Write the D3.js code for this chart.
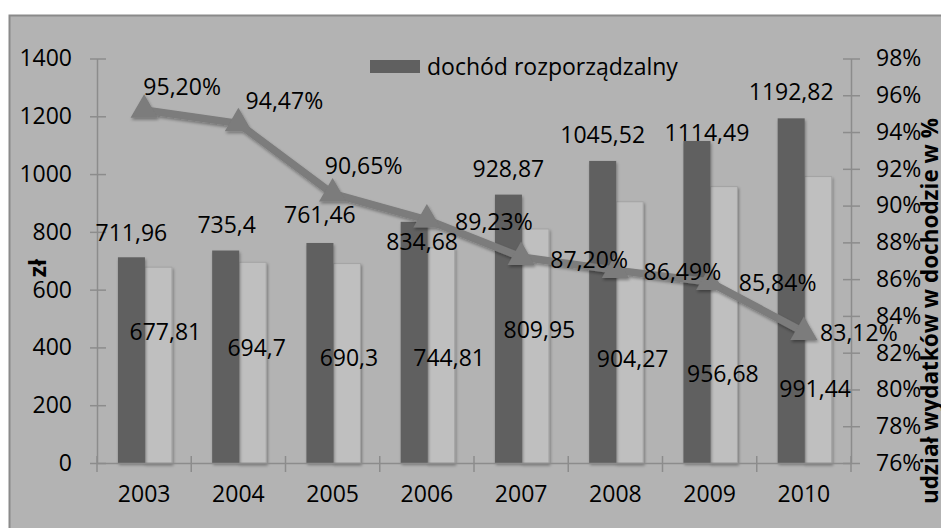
<!DOCTYPE html>
<html>
<head>
<meta charset="utf-8">
<script src="https://cdn.jsdelivr.net/npm/d3@7/dist/d3.min.js"></script>
<style>
  html, body { margin: 0; padding: 0; background: #fff; }
  svg { display: block; }
  text { font-family: "Open Sans", Lato, "Liberation Sans", sans-serif; fill: #000; }
</style>
</head>
<body>
<svg id="chart" width="941" height="528"></svg>
<script>
// Disposable income vs. spending per person (zł) and spending share of income (%)
const years = ["2003", "2004", "2005", "2006", "2007", "2008", "2009", "2010"];
const income = [711.96, 735.4, 761.46, 834.68, 928.87, 1045.52, 1114.49, 1192.82];
const spending = [677.81, 694.7, 690.3, 744.81, 809.95, 904.27, 956.68, 991.44];
const share = [95.20, 94.47, 90.65, 89.23, 87.20, 86.49, 85.84, 83.12];
const leftTicks = [0, 200, 400, 600, 800, 1000, 1200, 1400];
const rightTicks = [76, 78, 80, 82, 84, 86, 88, 90, 92, 94, 96, 98];
const legendLabel = "dochód rozporządzalny";
const leftTitle = "zł";
const rightTitle = "udział wydatków w dochodzie w %";

// hand-placed label offsets [dx, dy] in px
const incomeLabelNudge = [[0,-25],[1,-26],[0,-28],[8,20],[0,-26],[0,-26],[10,-8],[0,-27]];
const spendingLabelNudge = [[7,65],[4,85],[2,94],[8,110],[4,101],[3,157],[-1,187],[-3,212]];
const shareLabelNudge = [[38,-23],[46,-23],[31,-28],[67,2],[68,3],[67,2],[68,1],[55,1]];

const svg = d3.select("#chart");
const W = 941, H = 528;
const plot = { left: 97, right: 851, top: 58.5, bottom: 463 };

const defs = svg.append("defs");
const shadow = defs.append("filter").attr("id", "shadow")
  .attr("x", "-30%").attr("y", "-30%").attr("width", "160%").attr("height", "160%");
shadow.append("feDropShadow").attr("dx", 1).attr("dy", 2).attr("stdDeviation", 1.8)
  .attr("flood-color", "#000").attr("flood-opacity", 0.35);

// panel
svg.append("rect").attr("x", 9.5).attr("y", 15.5).attr("width", W).attr("height", H)
  .attr("fill", "#b3b3b3").attr("stroke", "#8a8a8a").attr("stroke-width", 2);

const x0 = d3.scaleBand().domain(years).range([plot.left, plot.right]).padding(0);
const x1 = d3.scaleBand().domain(["income", "spending"]).range([0, x0.bandwidth()])
  .paddingInner(0).paddingOuter(0.745).align(0.52);
const yL = d3.scaleLinear().domain([0, 1400]).range([plot.bottom, plot.top]);
const yR = d3.scaleLinear().domain([76, 98]).range([plot.bottom, plot.top]);

const axisColor = "#8c8c8c";
const fontSize = 23;

// bars
const g = svg.append("g");
const groups = g.selectAll("g.year").data(years).join("g")
  .attr("transform", d => `translate(${x0(d)},0)`);

groups.append("rect")
  .attr("x", x1("spending")).attr("width", x1.bandwidth())
  .attr("y", (d, i) => yL(spending[i])).attr("height", (d, i) => yL(0) - yL(spending[i]))
  .attr("fill", "#bfbfbf").attr("stroke", "#a4a4a4").attr("stroke-width", 1)
  .attr("filter", "url(#shadow)");
groups.append("rect")
  .attr("x", x1("income")).attr("width", x1.bandwidth())
  .attr("y", (d, i) => yL(income[i])).attr("height", (d, i) => yL(0) - yL(income[i]))
  .attr("fill", "#606060")
  .attr("filter", "url(#shadow)");

// left axis
const leftAxis = svg.append("g").attr("transform", `translate(${plot.left},0)`)
  .call(d3.axisLeft(yL).tickValues(leftTicks).tickSize(0).tickPadding(25)
    .tickFormat(d3.format("d")));
leftAxis.select(".domain").attr("stroke", axisColor).attr("stroke-width", 1.5);
leftAxis.selectAll(".tick line").remove();
leftAxis.selectAll(".tick").append("line").attr("x1", -7).attr("x2", 9)
  .attr("stroke", axisColor).attr("stroke-width", 1.5);
leftAxis.selectAll(".tick text").attr("font-size", fontSize).attr("font-family", null);

// right axis
const rightAxis = svg.append("g").attr("transform", `translate(${plot.right},0)`)
  .call(d3.axisRight(yR).tickValues(rightTicks).tickSize(0).tickPadding(25)
    .tickFormat(d => d + "%"));
rightAxis.select(".domain").attr("stroke", axisColor).attr("stroke-width", 1.5);
rightAxis.selectAll(".tick line").remove();
rightAxis.selectAll(".tick").append("line").attr("x1", -8).attr("x2", 9)
  .attr("stroke", axisColor).attr("stroke-width", 1.5);
rightAxis.selectAll(".tick text").attr("font-size", fontSize).attr("font-family", null);

// bottom axis
const bottomAxis = svg.append("g").attr("transform", `translate(0,${plot.bottom})`)
  .call(d3.axisBottom(x0).tickSize(0).tickPadding(23));
bottomAxis.select(".domain").attr("stroke", axisColor).attr("stroke-width", 1.5);
bottomAxis.selectAll(".tick text").attr("font-size", fontSize).attr("font-family", null);
const bounds = years.map(d => x0(d)).concat([plot.right]);
bottomAxis.selectAll("line.sep").data(bounds).join("line").attr("class", "sep")
  .attr("x1", d => d).attr("x2", d => d).attr("y1", -7).attr("y2", 9)
  .attr("stroke", axisColor).attr("stroke-width", 1.5);

// share line
const cx = d => x0(d) + x0.bandwidth() / 2;
const pts = years.map((d, i) => [cx(d), yR(share[i])]);
const lineG = svg.append("g").attr("filter", "url(#shadow)");
lineG.append("path").attr("d", d3.line()(pts))
  .attr("fill", "none").attr("stroke", "#7b7b7b").attr("stroke-width", 7.5)
  .attr("stroke-linejoin", "round");
lineG.selectAll("path.marker").data(pts).join("path").attr("class", "marker")
  .attr("transform", p => `translate(${p[0]},${p[1]})`)
  .attr("d", d3.symbol(d3.symbolTriangle, 320))
  .attr("fill", "#7b7b7b");

// value labels
const fmt = v => String(v).replace(".", ",");
svg.append("g").selectAll("text").data(years).join("text")
  .attr("x", (d, i) => x0(d) + x1("income") + x1.bandwidth() / 2 + incomeLabelNudge[i][0])
  .attr("y", (d, i) => yL(income[i]) + incomeLabelNudge[i][1])
  .attr("dy", "0.36em").attr("text-anchor", "middle").attr("font-size", fontSize)
  .text((d, i) => fmt(income[i]));
svg.append("g").selectAll("text").data(years).join("text")
  .attr("x", (d, i) => x0(d) + x1("spending") + x1.bandwidth() / 2 + spendingLabelNudge[i][0])
  .attr("y", (d, i) => yL(spending[i]) + spendingLabelNudge[i][1])
  .attr("dy", "0.36em").attr("text-anchor", "middle").attr("font-size", fontSize)
  .text((d, i) => fmt(spending[i]));
svg.append("g").selectAll("text").data(years).join("text")
  .attr("x", (d, i) => pts[i][0] + shareLabelNudge[i][0])
  .attr("y", (d, i) => pts[i][1] + shareLabelNudge[i][1])
  .attr("dy", "0.36em").attr("text-anchor", "middle").attr("font-size", fontSize)
  .text((d, i) => share[i].toFixed(2).replace(".", ",") + "%");

// legend
const lg = svg.append("g").attr("transform", "translate(370,60)");
lg.append("rect").attr("width", 50).attr("height", 13).attr("fill", "#606060");
lg.append("text").attr("x", 57).attr("y", 6.5).attr("dy", "0.36em")
  .attr("font-size", fontSize).text(legendLabel);

// axis titles
svg.append("text").attr("transform", "translate(38,268) rotate(-90)")
  .attr("text-anchor", "middle").attr("dy", "0.36em")
  .attr("font-size", fontSize).attr("font-weight", "bold").text(leftTitle);
svg.append("text").attr("transform", "translate(930,311) rotate(-90)")
  .attr("text-anchor", "middle").attr("dy", "0.36em")
  .attr("font-size", 22.5).attr("font-weight", "bold").text(rightTitle);
</script>
</body>
</html>
